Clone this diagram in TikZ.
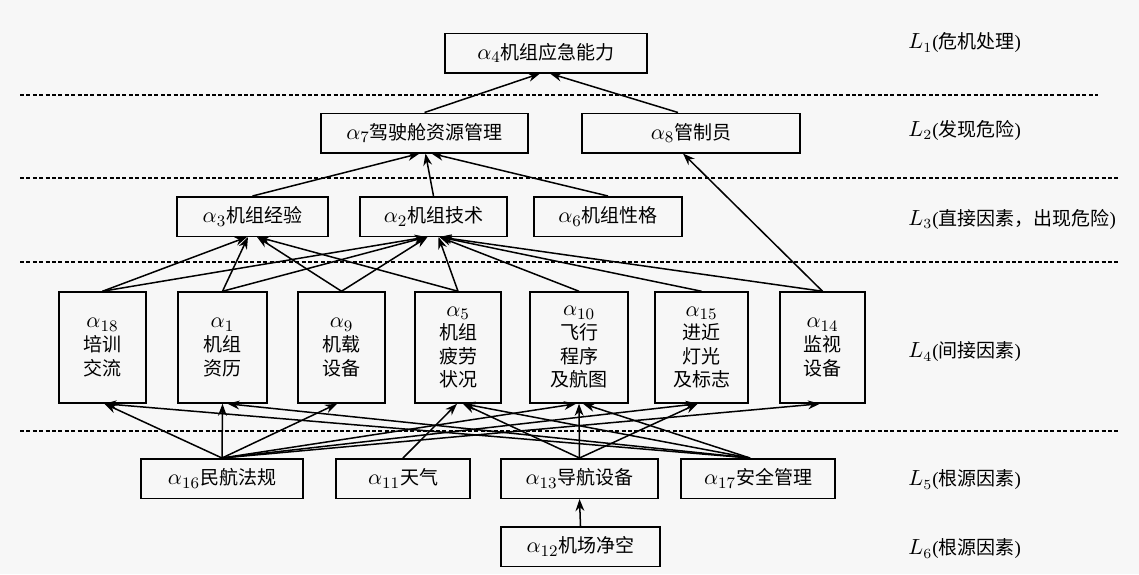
\documentclass[tikz,border=0pt]{standalone}
\usepackage{fontspec}
\setmainfont{Liberation Serif}
\newfontfamily\cjk{Noto Sans CJK SC}
\newcommand\zhtext[1]{{\cjk #1}}
\newcommand\alp[1]{{\fontsize{11}{11.8}\selectfont$\alpha_{#1}$}}
\newcommand\lev[1]{{\fontsize{10.5}{11.8}\selectfont$L_{#1}$}}
\usetikzlibrary{arrows.meta}
\begin{document}
\begin{tikzpicture}[x=0.5pt,y=-0.5pt,
  font=\fontsize{9.5}{11.8}\selectfont,
  box/.style={draw, line width=0.75pt, inner sep=0pt, align=center},
  hbox/.style={box, minimum height=19.75pt},
  vbox/.style={box, minimum height=55.5pt},
  conn/.style={line width=0.75pt, -{Stealth[length=6pt,width=4.4pt]}},
  layerline/.style={line width=0.65pt, dash pattern=on 2pt off 1.2pt},
  lab/.style={anchor=west, inner sep=0pt}]
\fill[black!3] (0,0) rectangle (1139,574);
\useasboundingbox (0,0) rectangle (1139,574);

% layer separators
\draw[layerline] (20,95) -- (1098,95);
\draw[layerline] (20,178) -- (1118,178);
\draw[layerline] (20,262) -- (1118,262);
\draw[layerline] (20,431) -- (1118,431);

% L1
\node[hbox, minimum width=101pt] (a4) at (546,53) {\alp{4}\zhtext{机组应急能力}};
% L2
\node[hbox, minimum width=103.5pt] (a7) at (424.5,133) {\alp{7}\zhtext{驾驶舱资源管理}};
\node[hbox, minimum width=109pt] (a8) at (691,133) {\alp{8}\zhtext{管制员}};
% L3
\node[hbox, minimum width=75.5pt] (a3) at (252.5,216.5) {\alp{3}\zhtext{机组经验}};
\node[hbox, minimum width=73.5pt] (a2) at (433.5,216.5) {\alp{2}\zhtext{机组技术}};
\node[hbox, minimum width=74pt] (a6) at (608,216.5) {\alp{6}\zhtext{机组性格}};
% L4
\node[vbox, minimum width=43.5pt] (a18) at (102.5,347.5) {\alp{18}\\\zhtext{培训}\\\zhtext{交流}};
\node[vbox, minimum width=44.5pt] (a1) at (222.5,347.5) {\alp{1}\\\zhtext{机组}\\\zhtext{资历}};
\node[vbox, minimum width=43.5pt] (a9) at (341.5,347.5) {\alp{9}\\\zhtext{机载}\\\zhtext{设备}};
\node[vbox, minimum width=43pt] (a5) at (458,347.5) {\alp{5}\\\zhtext{机组}\\\zhtext{疲劳}\\\zhtext{状况}};
\node[vbox, minimum width=49pt] (a10) at (579,347.5) {\alp{10}\\\zhtext{飞行}\\\zhtext{程序}\\\zhtext{及航图}};
\node[vbox, minimum width=46.5pt] (a15) at (701.5,347.5) {\alp{15}\\\zhtext{进近}\\\zhtext{灯光}\\\zhtext{及标志}};
\node[vbox, minimum width=42.5pt] (a14) at (822.5,347.5) {\alp{14}\\\zhtext{监视}\\\zhtext{设备}};
% L5
\node[hbox, minimum width=81pt] (a16) at (222,478.5) {\alp{16}\zhtext{民航法规}};
\node[hbox, minimum width=67pt] (a11) at (403,478.5) {\alp{11}\zhtext{天气}};
\node[hbox, minimum width=78.5pt] (a13) at (579.5,478.5) {\alp{13}\zhtext{导航设备}};
\node[hbox, minimum width=77pt] (a17) at (758,478.5) {\alp{17}\zhtext{安全管理}};
% L6
\node[hbox, minimum width=79.5pt] (a12) at (580.5,546.5) {\alp{12}\zhtext{机场净空}};

% layer labels
\node[lab] (l1) at (908,43) {\lev{1}(\zhtext{危机处理})};
\node[lab] (l2) at (908,130) {\lev{2}(\zhtext{发现危险})};
\node[lab] (l3) at (908,219) {\lev{3}(\zhtext{直接因素，出现危险})};
\node[lab] (l4) at (908,352) {\lev{4}(\zhtext{间接因素})};
\node[lab] (l5) at (908,480) {\lev{5}(\zhtext{根源因素})};
\node[lab] (l6) at (908,549) {\lev{6}(\zhtext{根源因素})};

% L2 -> L1
\draw[conn] (a7.north) -- ([xshift=-3pt]a4.south);
\draw[conn] ([xshift=-6.5pt]a8.north) -- ([xshift=2pt]a4.south);
% L3 -> L2
\draw[conn] (a3.north) -- ([xshift=-2.5pt]a7.south);
\draw[conn] (a2.north) -- ([xshift=0.5pt]a7.south);
\draw[conn] (a6.north) -- ([xshift=3.5pt]a7.south);
% L4 -> L3 / L2
\draw[conn] (a18.north) -- ([xshift=-2.75pt]a3.south);
\draw[conn] (a1.north) -- ([xshift=-2.25pt]a3.south);
\draw[conn] (a9.north) -- ([xshift=2.25pt]a3.south);
\draw[conn] (a5.north) -- ([xshift=2.75pt]a3.south);
\draw[conn] (a18.north) -- ([xshift=-3.5pt]a2.south);
\draw[conn] (a1.north) -- ([xshift=-3.5pt]a2.south);
\draw[conn] (a9.north) -- ([xshift=-3pt]a2.south);
\draw[conn] (a5.north) -- ([xshift=2.5pt]a2.south);
\draw[conn] (a10.north) -- ([xshift=3pt]a2.south);
\draw[conn] (a15.north) -- ([xshift=3pt]a2.south);
\draw[conn] (a14.north) -- ([xshift=3pt]a2.south);
\draw[conn] (a14.north) -- ([xshift=-4pt]a8.south);
% L5 -> L4
\draw[conn] (a16.north) -- ([xshift=1pt]a18.south);
\draw[conn] (a16.north) -- (a1.south);
\draw[conn] (a16.north) -- ([xshift=-2.25pt]a9.south);
\draw[conn] (a16.north) -- ([xshift=-1.5pt]a10.south);
\draw[conn] (a16.north) -- ([xshift=-2pt]a15.south);
\draw[conn] (a16.north) -- ([xshift=-1.25pt]a14.south);
\draw[conn] (a11.north) -- ([xshift=-0.5pt]a5.south);
\draw[conn] (a13.north) -- ([xshift=2.5pt]a5.south);
\draw[conn] (a13.north) -- (a10.south);
\draw[conn] (a13.north) -- ([xshift=-2pt]a15.south);
\draw[conn] ([xshift=-4pt]a17.north) -- ([xshift=1pt]a18.south);
\draw[conn] ([xshift=-4pt]a17.north) -- ([xshift=2.5pt]a1.south);
\draw[conn] ([xshift=-4pt]a17.north) -- ([xshift=2.5pt]a5.south);
\draw[conn] ([xshift=-4pt]a17.north) -- ([xshift=2pt]a10.south);
% L6 -> L5
\draw[conn] (a12.north) -- (a13.south);
\end{tikzpicture}
\end{document}
